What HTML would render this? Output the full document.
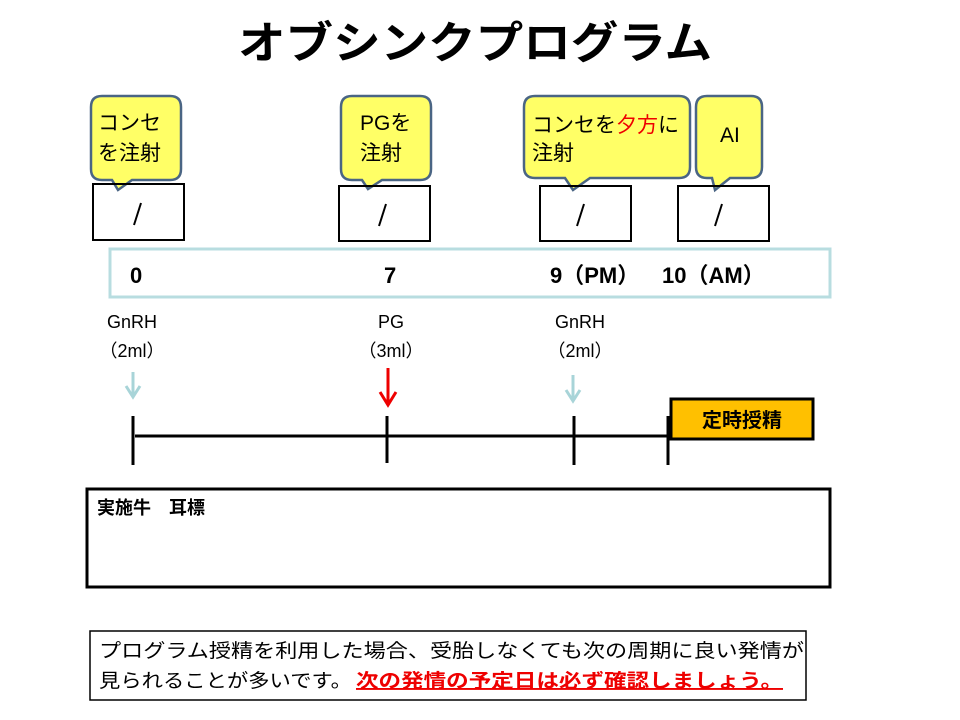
<!DOCTYPE html>
<html><head><meta charset="utf-8"><style>
body{margin:0;background:#fff}
svg{display:block;font-family:"Liberation Sans","Noto Sans CJK JP",sans-serif}
</style></head><body>
<svg width="960" height="720" viewBox="0 0 960 720" xmlns="http://www.w3.org/2000/svg">
<text x="238" y="58" font-size="44" font-weight="bold" textLength="474" lengthAdjust="spacingAndGlyphs">オブシンクプログラム</text>

<g fill="#ffff66" stroke="#4a6584" stroke-width="2.5">
<path d="M102 96 H170 Q181 96 181 107 V169 Q181 180 170 180 H132 L118 190 L112 180 H102 Q91 180 91 169 V107 Q91 96 102 96Z"/>
<path d="M352 96 H420 Q431 96 431 107 V169 Q431 180 420 180 H382 L368 189 L362 180 H352 Q341 180 341 169 V107 Q341 96 352 96Z"/>
<path d="M535 96 H679 Q690 96 690 107 V167 Q690 178 679 178 H590 L573 190 L565 178 H535 Q524 178 524 167 V107 Q524 96 535 96Z"/>
<path d="M707 96 H751 Q762 96 762 107 V167 Q762 178 751 178 H730 L715 190 L712 178 H707 Q696 178 696 167 V107 Q696 96 707 96Z"/>
</g>
<g font-size="21">
<text x="98" y="130">コンセ</text><text x="98" y="160">を注射</text>
<text x="360" y="130">PGを</text><text x="360" y="160">注射</text>
<text x="532" y="132">コンセを<tspan fill="#e00">夕方</tspan>に</text><text x="532" y="160">注射</text>
<text x="720" y="142">AI</text>
</g>
<g fill="none" stroke="#000" stroke-width="2">
<rect x="93" y="184" width="91" height="56"/>
<rect x="339" y="186" width="91" height="55"/>
<rect x="540" y="186" width="91" height="55"/>
<rect x="678" y="186" width="91" height="55"/>
</g>
<g stroke="#000" stroke-width="2">
<line x1="134" y1="225" x2="141" y2="203"/>
<line x1="379" y1="226" x2="386" y2="204"/>
<line x1="577" y1="226" x2="584" y2="204"/>
<line x1="715" y1="226" x2="722" y2="204"/>
</g>
<rect x="110" y="249" width="720" height="48" fill="none" stroke="#b8dde0" stroke-width="3"/>
<g font-size="22" font-weight="bold">
<text x="130" y="283">0</text><text x="384" y="283">7</text>
<text x="550" y="283">9（PM）</text><text x="662" y="283">10（AM）</text>
</g>
<g font-size="18" text-anchor="middle">
<text x="132" y="328">GnRH</text><text x="132" y="357">（2ml）</text>
<text x="391" y="328">PG</text><text x="391" y="357">（3ml）</text>
<text x="580" y="328">GnRH</text><text x="580" y="357">（2ml）</text>
</g>
<g stroke="#a8d4d8" stroke-width="3" fill="none">
<line x1="133" y1="372" x2="133" y2="396"/><path d="M126 386 L133 397 L140 386"/>
<line x1="573" y1="375" x2="573" y2="400"/><path d="M566 390 L573 401 L580 390"/>
</g>
<g stroke="#e00" stroke-width="3" fill="none">
<line x1="388" y1="368" x2="388" y2="404"/><path d="M380 392 L388 405 L396 392"/>
</g>
<g stroke="#000" stroke-width="3">
<line x1="135" y1="436" x2="800" y2="436"/>
<line x1="133" y1="416" x2="133" y2="465"/>
<line x1="387" y1="416" x2="387" y2="463"/>
<line x1="574" y1="416" x2="574" y2="465"/>
<line x1="668" y1="416" x2="668" y2="465"/>
</g>
<rect x="671" y="399" width="142" height="40" fill="#ffc000" stroke="#000" stroke-width="3"/>
<text x="742" y="427" font-size="20" font-weight="bold" text-anchor="middle">定時授精</text>
<rect x="87" y="489" width="743" height="98" fill="none" stroke="#000" stroke-width="3"/>
<text x="97" y="514" font-size="18" font-weight="bold">実施牛　耳標</text>
<rect x="90" y="631" width="716" height="69" fill="none" stroke="#000" stroke-width="1.5"/>
<g font-size="19">
<text x="99" y="657" textLength="705" lengthAdjust="spacingAndGlyphs">プログラム授精を利用した場合、受胎しなくても次の周期に良い発情が</text>
<text x="99" y="687" textLength="253" lengthAdjust="spacingAndGlyphs">見られることが多いです。</text>
<text x="356" y="687" fill="#e00" font-weight="bold" text-decoration="underline" textLength="427" lengthAdjust="spacingAndGlyphs">次の発情の予定日は必ず確認しましょう。</text>
</g>
</svg>
</body></html>
